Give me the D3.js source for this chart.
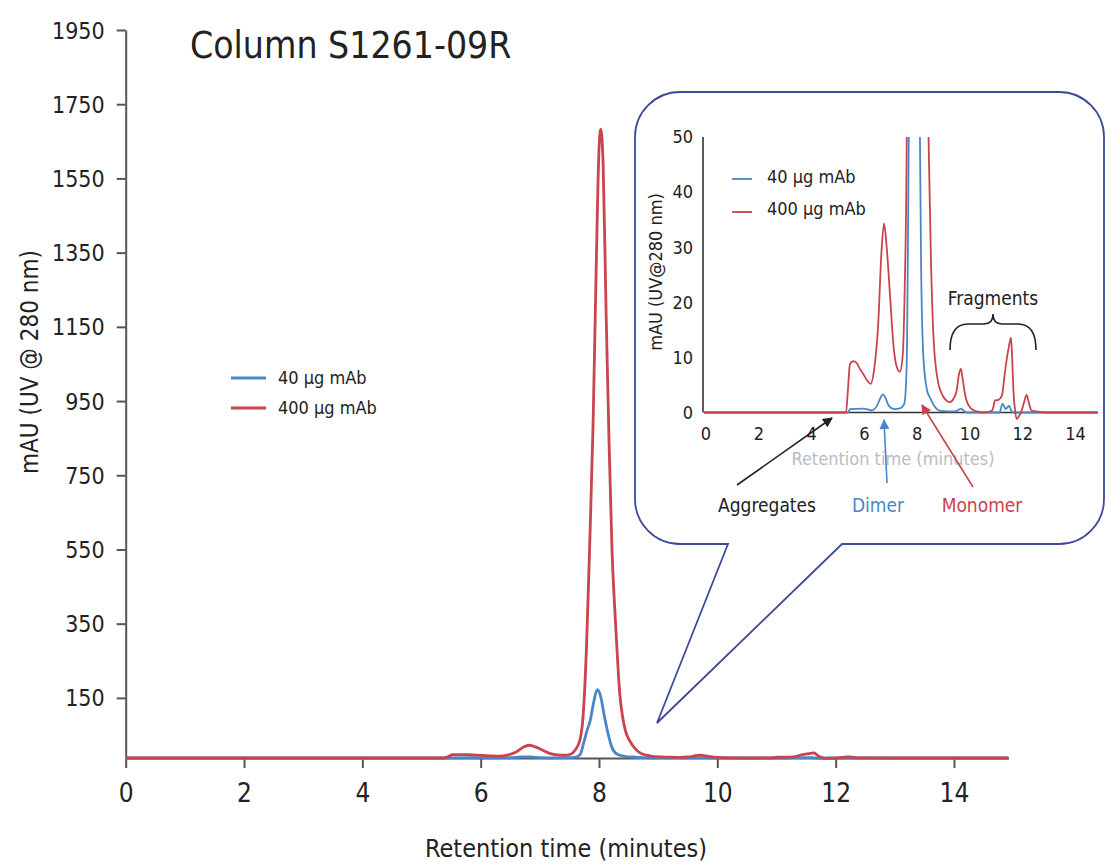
<!DOCTYPE html>
<html>
<head>
<meta charset="utf-8">
<script src="https://cdn.jsdelivr.net/npm/d3@7"></script>
<style>
  body { margin: 0; background: #fff; }
  svg { display: block; }
</style>
</head>
<body>
<main></main>
<script>
// data (minutes, mAU)
let redTime = [0, 5.38, 5.45, 5.53, 5.65, 5.78, 5.92, 6.03, 6.18, 6.31, 6.45, 6.6, 6.72, 6.82, 6.92, 7.05, 7.18, 7.3, 7.42, 7.52,
    7.6, 7.68, 7.73, 7.79, 7.84, 7.9, 7.95, 8.0, 8.03, 8.07, 8.12, 8.17, 8.22, 8.26, 8.3, 8.35, 8.4, 8.45, 8.52, 8.6,
    8.7, 8.8, 8.88, 9.05, 9.2, 9.32, 9.45, 9.57, 9.66, 9.73, 9.8, 9.88, 9.95, 10.1, 10.33, 10.6, 10.9, 10.96, 11.02, 11.15,
    11.28, 11.38, 11.44, 11.55, 11.63, 11.68, 11.72, 11.78, 11.84, 11.95, 12.03, 12.12, 12.22, 12.32, 12.41, 12.6, 13, 14.92];
let redValues = [0, 0, 4, 8.8, 9.3, 9.0, 7.8, 7.0, 5.8, 5.2, 8, 16.2, 29, 34.3, 30, 21, 12, 8.3, 7.4, 10,
    22, 50, 110, 305, 560, 900, 1300, 1640, 1695, 1600, 1200, 850, 560, 420, 305, 175, 110, 72, 46, 27,
    13, 7.5, 5.2, 3, 2.1, 1.9, 2.5, 4, 7, 7.9, 6, 3.5, 2.1, 0.8, 0.2, 0, 0.3, 1, 2.2, 2.3,
    3, 6.5, 8.8, 12, 13.6, 9, 4, 0.5, -1.2, -0.5, 0.3, 1.8, 3.2, 1.5, 0.3, 0.2, 0, 0];

let blueTime = [0, 5.45, 5.53, 6.03, 6.35, 6.55, 6.7, 6.78, 6.88, 7.0, 7.2, 7.45, 7.58, 7.64, 7.69, 7.74, 7.8, 7.85, 7.91, 7.97,
    8.03, 8.08, 8.12, 8.17, 8.22, 8.31, 8.45, 8.56, 8.75, 8.94, 9.5, 9.65, 9.73, 9.82, 9.95, 11.2, 11.26, 11.3, 11.36, 11.43,
    11.5, 11.56, 11.63, 11.7, 14.92];
let blueValues = [0, 0, 0.6, 0.7, 0.4, 1.2, 2.8, 3.3, 2.6, 1.2, 0.6, 0.8, 1.5, 4, 12, 40, 75, 100, 150, 184,
    165, 122, 90, 55, 28, 10, 4, 2.7, 1, 0.3, 0.2, 0.5, 0.7, 0.4, 0, 0, 1, 1.6, 1.2, 0.6,
    1, 1.2, 0.4, 0, 0];

let seriesNames = ['40 \u00b5g mAb', '400 \u00b5g mAb'];
let xTicks = [0, 2, 4, 6, 8, 10, 12, 14];
let yTicks = [150, 350, 550, 750, 950, 1150, 1350, 1550, 1750, 1950];
let insetYTicks = [0, 10, 20, 30, 40, 50];
// the overview trace sits a little below zero on its axis
let mainBaseline = -12;

let blueColor = '#4a86c6';
let redColor = '#c9444c';
let font = "'Liberation Sans Narrow', 'DejaVu Sans Condensed', 'Arial Narrow', sans-serif";

let blue = blueTime.map((t, i) => ({ t: t, v: blueValues[i] }));
let red = redTime.map((t, i) => ({ t: t, v: redValues[i] }));

let svg = d3.select('main')
    .append('svg')
    .attr('width', 1105)
    .attr('height', 865)
    .style('font-family', font);

// Main chart
let x = d3.scaleLinear().domain([0, 14.92]).range([125.7, 1008.4]);
let y = d3.scaleLinear().domain([-12, 1950]).range([758, 30]);

let mainLine = d3.line()
    .x(d => x(d.t))
    .y(d => y(d.v + mainBaseline))
    .curve(d3.curveMonotoneX);

let xAxis = svg.append('g')
    .attr('transform', `translate(0,${y(-12)})`)
    .call(d3.axisBottom(x).tickValues(xTicks).tickSize(10).tickSizeOuter(0).tickPadding(16).tickFormat(d3.format('d')));

let yAxis = svg.append('g')
    .attr('transform', `translate(${x(0)},0)`)
    .call(d3.axisLeft(y).tickValues(yTicks).tickSize(9).tickSizeOuter(0).tickPadding(12).tickFormat(d3.format('d')));

[xAxis, yAxis].forEach(g => {
    g.select('.domain').attr('stroke', '#555').attr('stroke-width', 2);
    g.selectAll('.tick line').attr('stroke', '#555').attr('stroke-width', 2);
    g.selectAll('.tick text').attr('fill', '#222').style('font-family', font);
});
xAxis.selectAll('.tick text').style('font-size', '26px');
yAxis.selectAll('.tick text').style('font-size', '23px').attr('dy', '0.35em');

svg.append('path')
    .datum(blue)
    .attr('d', mainLine)
    .attr('fill', 'none')
    .attr('stroke', blueColor)
    .attr('stroke-width', 2.8);

svg.append('path')
    .datum(red)
    .attr('d', mainLine)
    .attr('fill', 'none')
    .attr('stroke', redColor)
    .attr('stroke-width', 2.8);

svg.append('text')
    .attr('x', 190)
    .attr('y', 58)
    .style('font-size', '37px')
    .attr('fill', '#222')
    .text('Column S1261-09R');

svg.append('text')
    .attr('x', 566)
    .attr('y', 857)
    .attr('text-anchor', 'middle')
    .style('font-size', '25px')
    .attr('fill', '#222')
    .text('Retention time (minutes)');

svg.append('text')
    .attr('transform', 'translate(38,362) rotate(-90)')
    .attr('text-anchor', 'middle')
    .style('font-size', '24px')
    .attr('fill', '#222')
    .text('mAU (UV @ 280 nm)');

// main legend
[blueColor, redColor].forEach((c, i) => {
    svg.append('line')
        .attr('x1', 231).attr('x2', 266)
        .attr('y1', 378 + i * 30).attr('y2', 378 + i * 30)
        .attr('stroke', c)
        .attr('stroke-width', 3);
    svg.append('text')
        .attr('x', 278)
        .attr('y', 378 + i * 30)
        .attr('dy', '0.35em')
        .style('font-size', '18px')
        .attr('fill', '#222')
        .text(seriesNames[i]);
});

// Callout bubble
let bx0 = 635, bx1 = 1104, by0 = 92, by1 = 544, br = 45;
let tipX = 657, tipY = 723, gapL = 728, gapR = 842;
let bubble = d3.path();
bubble.moveTo(gapR, by1);
bubble.lineTo(bx1 - br, by1);
bubble.arcTo(bx1, by1, bx1, by1 - br, br);
bubble.lineTo(bx1, by0 + br);
bubble.arcTo(bx1, by0, bx1 - br, by0, br);
bubble.lineTo(bx0 + br, by0);
bubble.arcTo(bx0, by0, bx0, by0 + br, br);
bubble.lineTo(bx0, by1 - br);
bubble.arcTo(bx0, by1, bx0 + br, by1, br);
bubble.lineTo(gapL, by1);
bubble.lineTo(tipX, tipY);
bubble.closePath();

svg.append('path')
    .attr('d', bubble.toString())
    .attr('fill', '#fff')
    .attr('stroke', '#3d4b97')
    .attr('stroke-width', 1.8)
    .attr('stroke-linejoin', 'miter');

// Inset chart
let xIn = d3.scaleLinear().domain([0, 14.92]).range([704, 1097.9]);
let yIn = d3.scaleLinear().domain([0, 50]).range([412.5, 137]);

svg.append('clipPath')
    .attr('id', 'insetClip')
    .append('rect')
    .attr('x', xIn(0) - 2)
    .attr('y', yIn(50))
    .attr('width', xIn(14.92) - xIn(0) + 4)
    .attr('height', 300);

let insetLine = d3.line()
    .x(d => xIn(d.t))
    .y(d => yIn(d.v))
    .curve(d3.curveMonotoneX);

svg.append('line')
    .attr('x1', xIn(0)).attr('x2', xIn(14.92))
    .attr('y1', yIn(0)).attr('y2', yIn(0))
    .attr('stroke', '#333')
    .attr('stroke-width', 1.6);

svg.append('line')
    .attr('x1', xIn(0) - 1).attr('x2', xIn(0) - 1)
    .attr('y1', yIn(50)).attr('y2', yIn(0))
    .attr('stroke', '#333')
    .attr('stroke-width', 1.6);

let insetG = svg.append('g').attr('clip-path', 'url(#insetClip)');

insetG.append('path')
    .datum(blue)
    .attr('d', insetLine)
    .attr('fill', 'none')
    .attr('stroke', blueColor)
    .attr('stroke-width', 1.8);

insetG.append('path')
    .datum(red)
    .attr('d', insetLine)
    .attr('fill', 'none')
    .attr('stroke', redColor)
    .attr('stroke-width', 1.8);

svg.selectAll('.inYTick')
    .data(insetYTicks)
    .enter()
    .append('text')
    .attr('class', 'inYTick')
    .attr('x', 693)
    .attr('y', d => yIn(d))
    .attr('dy', '0.35em')
    .attr('text-anchor', 'end')
    .style('font-size', '18px')
    .attr('fill', '#222')
    .text(d => d);

svg.selectAll('.inXTick')
    .data(xTicks)
    .enter()
    .append('text')
    .attr('class', 'inXTick')
    .attr('x', d => xIn(d) + 2)
    .attr('y', 434)
    .attr('dy', '0.35em')
    .attr('text-anchor', 'middle')
    .style('font-size', '18px')
    .attr('fill', '#222')
    .text(d => d);

svg.append('text')
    .attr('x', 893)
    .attr('y', 465)
    .attr('text-anchor', 'middle')
    .style('font-size', '18px')
    .attr('fill', '#bcbcbc')
    .text('Retention time (minutes)');

svg.append('text')
    .attr('transform', 'translate(662,272) rotate(-90)')
    .attr('text-anchor', 'middle')
    .style('font-size', '18px')
    .attr('fill', '#222')
    .text('mAU (UV@280 nm)');

// inset legend
[blueColor, redColor].forEach((c, i) => {
    svg.append('line')
        .attr('x1', 732).attr('x2', 752)
        .attr('y1', 179 + i * 33).attr('y2', 179 + i * 33)
        .attr('stroke', c)
        .attr('stroke-width', 1.8);
    svg.append('text')
        .attr('x', 767)
        .attr('y', 177 + i * 32)
        .attr('dy', '0.35em')
        .style('font-size', '18px')
        .attr('fill', '#222')
        .text(seriesNames[i]);
});

// arrows and labels
let defs = svg.append('defs');
[['arrBlack', '#222'], ['arrBlue', blueColor], ['arrRed', redColor]].forEach(m => {
    defs.append('marker')
        .attr('id', m[0])
        .attr('viewBox', '0 0 10 10')
        .attr('refX', 9)
        .attr('refY', 5)
        .attr('markerWidth', 12)
        .attr('markerHeight', 10)
        .attr('markerUnits', 'userSpaceOnUse')
        .attr('orient', 'auto')
        .append('path')
        .attr('d', 'M0,0 L10,5 L0,10 Z')
        .attr('fill', m[1]);
});

let arrows = [
    { x1: 737, y1: 485, x2: 832, y2: 418, c: '#222', m: 'arrBlack' },
    { x1: 887, y1: 483, x2: 884, y2: 420, c: blueColor, m: 'arrBlue' },
    { x1: 973, y1: 487, x2: 922, y2: 405, c: redColor, m: 'arrRed' }
];
arrows.forEach(a => {
    svg.append('line')
        .attr('x1', a.x1).attr('y1', a.y1)
        .attr('x2', a.x2).attr('y2', a.y2)
        .attr('stroke', a.c)
        .attr('stroke-width', 1.6)
        .attr('marker-end', `url(#${a.m})`);
});

let labels = [
    { t: 'Aggregates', x: 767, c: '#222' },
    { t: 'Dimer', x: 878, c: blueColor },
    { t: 'Monomer', x: 982, c: redColor }
];
labels.forEach(l => {
    svg.append('text')
        .attr('x', l.x)
        .attr('y', 505)
        .attr('dy', '0.35em')
        .attr('text-anchor', 'middle')
        .style('font-size', '19px')
        .attr('fill', l.c)
        .text(l.t);
});

svg.append('text')
    .attr('x', 993)
    .attr('y', 298)
    .attr('dy', '0.35em')
    .attr('text-anchor', 'middle')
    .style('font-size', '19px')
    .attr('fill', '#222')
    .text('Fragments');

// curly brace over the fragment peaks
let brace = d3.path();
brace.moveTo(950, 350);
brace.quadraticCurveTo(950, 324, 968, 324);
brace.lineTo(984, 324);
brace.quadraticCurveTo(993, 324, 993, 314);
brace.quadraticCurveTo(993, 324, 1002, 324);
brace.lineTo(1018, 324);
brace.quadraticCurveTo(1036, 324, 1036, 350);
svg.append('path')
    .attr('d', brace.toString())
    .attr('fill', 'none')
    .attr('stroke', '#222')
    .attr('stroke-width', 1.6);
</script>
</body>
</html>
